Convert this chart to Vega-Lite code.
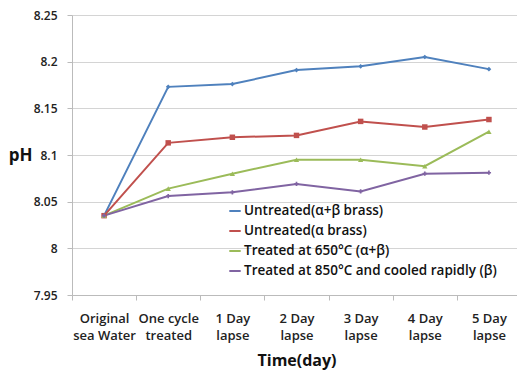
{
  "$schema": "https://vega.github.io/schema/vega-lite/v6.json",
  "width": 449,
  "height": 280,
  "autosize": {"type": "none"},
  "padding": {"left": 72, "top": 15, "right": 0, "bottom": 86},
  "background": "white",
  "config": {
    "view": {"stroke": null},
    "font": "Open Sans",
    "axis": {"labelFont": "Open Sans", "titleFont": "Open Sans", "labelColor": "#222", "titleColor": "#111"}
  },
  "data": {
    "values": [
      {"time": "Original|sea Water", "series": "Untreated(α+β brass)", "ph": 8.035},
      {"time": "One cycle|treated", "series": "Untreated(α+β brass)", "ph": 8.173},
      {"time": "1 Day|lapse", "series": "Untreated(α+β brass)", "ph": 8.176},
      {"time": "2 Day|lapse", "series": "Untreated(α+β brass)", "ph": 8.191},
      {"time": "3 Day|lapse", "series": "Untreated(α+β brass)", "ph": 8.195},
      {"time": "4 Day|lapse", "series": "Untreated(α+β brass)", "ph": 8.205},
      {"time": "5 Day|lapse", "series": "Untreated(α+β brass)", "ph": 8.192},
      {"time": "Original|sea Water", "series": "Untreated(α brass)", "ph": 8.035},
      {"time": "One cycle|treated", "series": "Untreated(α brass)", "ph": 8.113},
      {"time": "1 Day|lapse", "series": "Untreated(α brass)", "ph": 8.119},
      {"time": "2 Day|lapse", "series": "Untreated(α brass)", "ph": 8.121},
      {"time": "3 Day|lapse", "series": "Untreated(α brass)", "ph": 8.136},
      {"time": "4 Day|lapse", "series": "Untreated(α brass)", "ph": 8.130},
      {"time": "5 Day|lapse", "series": "Untreated(α brass)", "ph": 8.138},
      {"time": "Original|sea Water", "series": "Treated at 650°C (α+β)", "ph": 8.035},
      {"time": "One cycle|treated", "series": "Treated at 650°C (α+β)", "ph": 8.064},
      {"time": "1 Day|lapse", "series": "Treated at 650°C (α+β)", "ph": 8.080},
      {"time": "2 Day|lapse", "series": "Treated at 650°C (α+β)", "ph": 8.095},
      {"time": "3 Day|lapse", "series": "Treated at 650°C (α+β)", "ph": 8.095},
      {"time": "4 Day|lapse", "series": "Treated at 650°C (α+β)", "ph": 8.088},
      {"time": "5 Day|lapse", "series": "Treated at 650°C (α+β)", "ph": 8.125},
      {"time": "Original|sea Water", "series": "Treated at 850°C and cooled rapidly (β)", "ph": 8.035},
      {"time": "One cycle|treated", "series": "Treated at 850°C and cooled rapidly (β)", "ph": 8.056},
      {"time": "1 Day|lapse", "series": "Treated at 850°C and cooled rapidly (β)", "ph": 8.060},
      {"time": "2 Day|lapse", "series": "Treated at 850°C and cooled rapidly (β)", "ph": 8.069},
      {"time": "3 Day|lapse", "series": "Treated at 850°C and cooled rapidly (β)", "ph": 8.061},
      {"time": "4 Day|lapse", "series": "Treated at 850°C and cooled rapidly (β)", "ph": 8.080},
      {"time": "5 Day|lapse", "series": "Treated at 850°C and cooled rapidly (β)", "ph": 8.081}
    ]
  },
  "encoding": {
    "x": {
      "field": "time", "type": "nominal", "sort": null,
      "scale": {"type": "band", "paddingInner": 0, "paddingOuter": 0},
      "axis": {
        "title": "Time(day)", "titleFontSize": 16, "titleFontWeight": "bold", "titlePadding": 10,
        "labelExpr": "split(datum.label, '|')", "labelAngle": 0, "labelFontSize": 13, "labelFontWeight": 600,
        "labelPadding": 12, "labelLineHeight": 17, "labelLimit": 0,
        "tickBand": "extent", "tickColor": "#bbb", "tickSize": 5, "domainColor": "#bbb", "grid": false
      }
    },
    "y": {
      "field": "ph", "type": "quantitative",
      "scale": {"domain": [7.95, 8.25], "zero": false, "nice": false},
      "axis": {
        "values": [7.95, 8, 8.05, 8.1, 8.15, 8.2, 8.25], "format": "~g",
        "title": "pH", "titleAngle": 0, "titleFontSize": 17, "titleFontWeight": "bold",
        "titleX": -52, "titleY": 140, "titleAlign": "center", "titleBaseline": "middle",
        "labelFontSize": 12, "labelFontWeight": 600, "labelPadding": 10,
        "tickColor": "#bbb", "tickSize": 5, "domainColor": "#bbb",
        "grid": true, "gridColor": "#d4d4d4", "gridWidth": 1.2
      }
    },
    "color": {
      "field": "series", "type": "nominal",
      "scale": {
        "domain": ["Untreated(α+β brass)", "Untreated(α brass)", "Treated at 650°C (α+β)", "Treated at 850°C and cooled rapidly (β)"],
        "range": ["#4F81BD", "#C0504D", "#9BBB59", "#8064A2"]
      },
      "legend": {
        "title": null, "orient": "none", "legendX": 156, "legendY": 189,
        "labelFontSize": 13.5, "labelFontWeight": 600, "labelColor": "#111", "labelLimit": 0,
        "symbolType": "stroke", "symbolSize": 130, "symbolStrokeWidth": 2, "rowPadding": 6, "labelOffset": 2
      }
    }
  },
  "layer": [
    {"mark": {"type": "line", "strokeWidth": 2}},
    {"transform": [{"filter": "datum.series === 'Untreated(α+β brass)'"}],
     "mark": {"type": "point", "filled": true, "size": 22, "opacity": 1, "shape": "diamond"}},
    {"transform": [{"filter": "datum.series === 'Untreated(α brass)'"}],
     "mark": {"type": "point", "filled": true, "size": 30, "opacity": 1, "shape": "square"}},
    {"transform": [{"filter": "datum.series === 'Treated at 650°C (α+β)'"}],
     "mark": {"type": "point", "filled": true, "size": 28, "opacity": 1, "shape": "triangle-up"}},
    {"transform": [{"filter": "datum.series === 'Treated at 850°C and cooled rapidly (β)'"}],
     "mark": {"type": "point", "filled": true, "size": 18, "opacity": 1, "shape": "cross"}}
  ]
}
